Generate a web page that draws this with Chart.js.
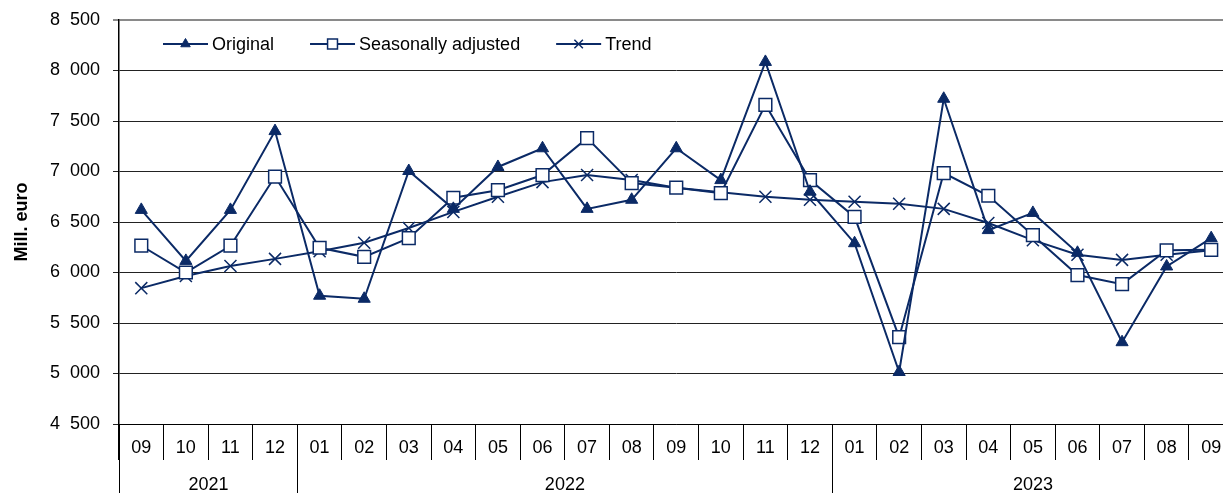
<!DOCTYPE html>
<html><head><meta charset="utf-8">
<script src="https://cdn.jsdelivr.net/npm/chart.js@4"></script>
<style>
html,body{margin:0;padding:0;background:#fff;overflow:hidden;}
#wrap{position:relative;width:1244px;height:493px;}
</style></head>
<body><div id="wrap"><canvas id="c" width="1244" height="493"></canvas></div>
<script>
const months = ['09','10','11','12','01','02','03','04','05','06','07','08','09','10','11','12','01','02','03','04','05','06','07','08','09'];
const yearLabels = ['2021','2022','2023'];
const yearStarts = [0, 4, 16];
const original = [6620, 6115, 6620, 7400, 5770, 5740, 7005, 6630, 7045, 7230, 6630, 6720, 7230, 6915, 8085, 6800, 6290, 5015, 7720, 6420, 6590, 6195, 5310, 6060, 6340];
const seasonallyAdjusted = [6265, 6000, 6265, 6950, 6245, 6155, 6340, 6740, 6815, 6965, 7330, 6885, 6840, 6785, 7660, 6915, 6550, 5360, 6985, 6760, 6370, 5975, 5885, 6220, 6225];
const trend = [5845, 5965, 6065, 6135, 6210, 6295, 6440, 6600, 6750, 6895, 6965, 6915, 6840, 6795, 6750, 6720, 6700, 6680, 6630, 6490, 6320, 6175, 6125, 6175, 6220];
const seriesNames = ['Original', 'Seasonally adjusted', 'Trend'];
const yMin = 4500, yMax = 8500, yStep = 500;
const yTitle = 'Mill. euro';

const NAVY = '#0b2a66';
const FONT = "'Liberation Sans', Arial, sans-serif";

function fmt(v){ return String(v).replace(/\B(?=(\d{3})+(?!\d))/g, '\u2007'); }

const legendPlugin = {
  id: 'lineLegend',
  afterDraw(chart){
    const ctx = chart.ctx;
    ctx.save();
    ctx.font = '18px ' + FONT;
    ctx.textBaseline = 'middle';
    ctx.textAlign = 'left';
    let x = chart.chartArea.left + 44;
    const y = chart.chartArea.top + 24;
    chart.data.datasets.forEach(ds => {
      ctx.strokeStyle = ds.borderColor;
      ctx.lineWidth = 2;
      ctx.beginPath(); ctx.moveTo(x, y); ctx.lineTo(x + 45, y); ctx.stroke();
      ctx.fillStyle = ds.pointBackgroundColor;
      ctx.strokeStyle = ds.pointBorderColor;
      ctx.lineWidth = ds.pointBorderWidth;
      Chart.helpers.drawPoint(ctx, {pointStyle: ds.pointStyle, radius: ds.legendRadius, rotation: 0, borderWidth: ds.pointBorderWidth}, x + 22.5, y);
      ctx.fillStyle = '#000';
      ctx.fillText(ds.label, x + 49, y + 1);
      x += 49 + ctx.measureText(ds.label).width + 36;
    });
    ctx.restore();
  }
};

const yearPlugin = {
  id: 'yearGroups',
  afterDraw(chart){
    const sx = chart.scales.x;
    const ctx = chart.ctx;
    const half = (sx.getPixelForValue(1) - sx.getPixelForValue(0)) / 2;
    const top = sx.top + 36;
    const bottom = sx.bottom;
    ctx.save();
    ctx.strokeStyle = '#000';
    ctx.lineWidth = 1;
    ctx.font = '18px ' + FONT;
    ctx.fillStyle = '#000';
    ctx.textAlign = 'center';
    ctx.textBaseline = 'middle';
    yearLabels.forEach((lab, i) => {
      const s = yearStarts[i];
      const e = (i + 1 < yearStarts.length ? yearStarts[i + 1] : months.length) - 1;
      const xl = Math.round(sx.getPixelForValue(s) - half) + 0.5;
      const xr = sx.getPixelForValue(e) + half;
      ctx.beginPath(); ctx.moveTo(xl, sx.top); ctx.lineTo(xl, bottom); ctx.stroke();
      ctx.fillText(lab, (xl + xr) / 2, top + 25);
    });
    ctx.restore();
  }
};

new Chart(document.getElementById('c'), {
  type: 'line',
  data: {
    labels: months,
    datasets: [
      {label: seriesNames[0], data: original, borderColor: NAVY, borderWidth: 2, pointStyle: 'triangle', pointRadius: 7, legendRadius: 5.5,
       pointBackgroundColor: NAVY, pointBorderColor: NAVY, pointBorderWidth: 1, tension: 0, fill: false},
      {label: seriesNames[1], data: seasonallyAdjusted, borderColor: NAVY, borderWidth: 2, pointStyle: 'rect', pointRadius: 9, legendRadius: 7,
       pointBackgroundColor: '#fff', pointBorderColor: NAVY, pointBorderWidth: 1.5, tension: 0, fill: false},
      {label: seriesNames[2], data: trend, borderColor: NAVY, borderWidth: 2, pointStyle: 'crossRot', pointRadius: 8.5, legendRadius: 6,
       pointBackgroundColor: NAVY, pointBorderColor: NAVY, pointBorderWidth: 1.5, tension: 0, fill: false}
    ]
  },
  options: {
    responsive: false,
    animation: false,
    events: [],
    layout: {padding: {top: 20, right: 3, bottom: 0, left: 0}},
    plugins: {legend: {display: false}, tooltip: {enabled: false}},
    scales: {
      x: {
        type: 'category',
        offset: true,
        grid: {offset: true, drawOnChartArea: false, drawTicks: true, tickLength: 36, color: '#000', lineWidth: 1},
        border: {display: true, color: '#000', width: 1},
        ticks: {color: '#000', font: {family: FONT, size: 18}, padding: -23, maxRotation: 0, autoSkip: false},
        afterFit(scale){ scale.height = 69; scale.paddingLeft = 0; scale.paddingRight = 0; }
      },
      y: {
        min: yMin, max: yMax,
        ticks: {stepSize: yStep, color: '#000', font: {family: FONT, size: 18}, padding: 13, callback: v => fmt(v)},
        grid: {color: ctx => (ctx.tick && ctx.tick.value === yMax) ? '#8a8a8a' : '#222', lineWidth: ctx => (ctx.tick && ctx.tick.value === yMax) ? 2 : 1, tickLength: 6, drawTicks: true},
        border: {display: true, color: '#000', width: 1.5},
        title: {display: true, text: yTitle, color: '#000', font: {family: FONT, size: 18, weight: 'bold'}, padding: {top: 11, bottom: 0}},
        afterFit(scale){ scale.width = 119; scale.paddingTop = 0; scale.paddingBottom = 0; }
      }
    }
  },
  plugins: [legendPlugin, yearPlugin]
});
</script>
</body></html>
